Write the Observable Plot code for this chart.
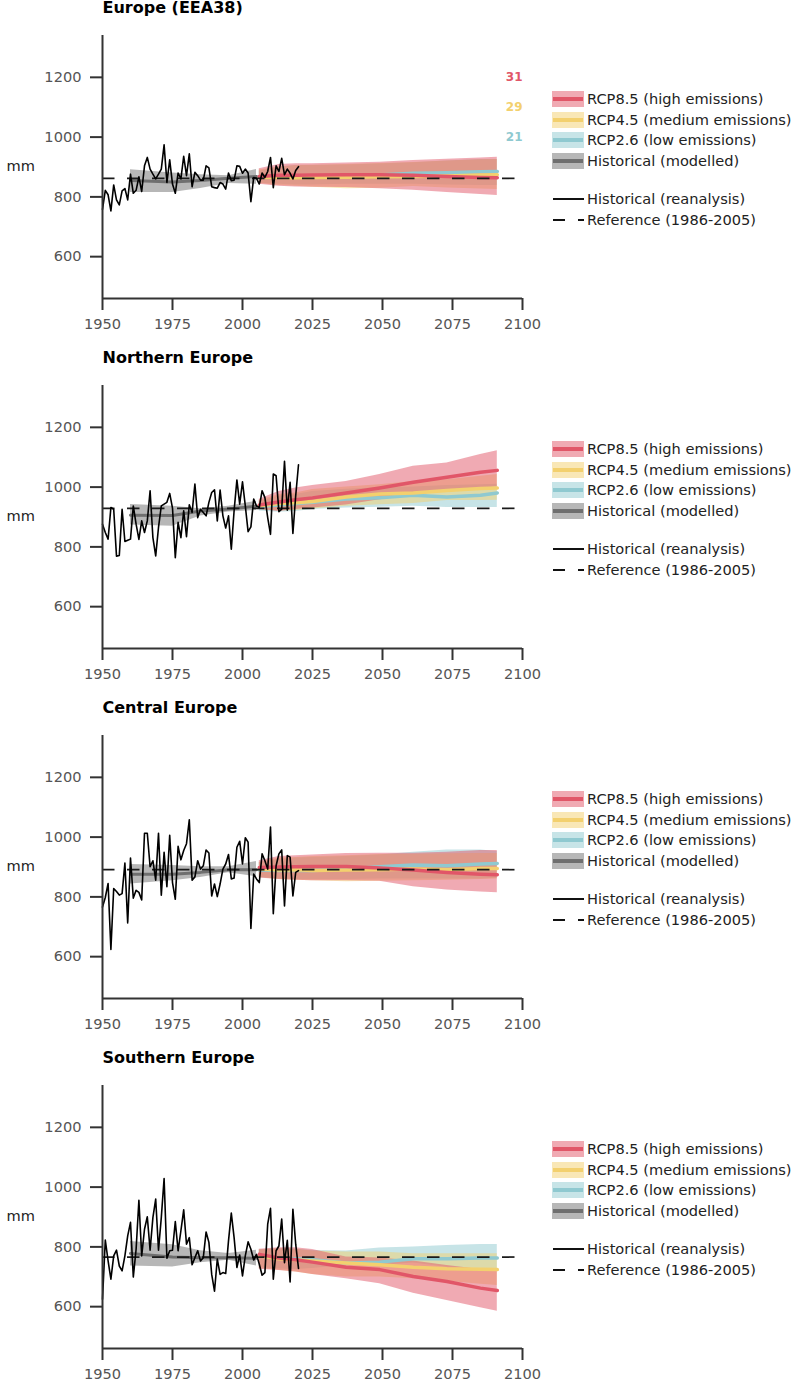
<!DOCTYPE html>
<html><head><meta charset="utf-8">
<script src="https://cdn.jsdelivr.net/npm/d3@7"></script>
<script src="https://cdn.jsdelivr.net/npm/@observablehq/plot@0.6"></script>
<style>
html,body{margin:0;padding:0;background:#fff;font-family:"DejaVu Sans",sans-serif}
#root{width:800px}
.panel{position:relative;width:800px;height:350px}
.panel svg{display:block;overflow:visible}
.lg{position:absolute;left:552px;width:248px;height:20px;font-size:14.6px;line-height:20px;color:#222;white-space:nowrap}
.lg span{position:absolute;left:35px;top:0}
.lg i{position:absolute;display:block}
</style></head><body><div id="root"></div>
<script>
const titles = ["Europe (EEA38)","Northern Europe","Central Europe","Southern Europe"];
const reanalysisYears = d3.range(1950, 2021);
const modelYears = [2006,2013,2019,2025,2037,2049,2061,2073,2085,2091];
const histYears = [1960,1975,1985,1995,2005];
const xTicks = [1950,1975,2000,2025,2050,2075,2100];
const yTicks = [600,800,1000,1200];
const xDomain = [1950,2100];
const yDomain = [460,1340];
const references = [862,929,891,766];
const countLabels = ["31","29","21"];
const countLabelY = [1200,1100,1000];
const legendNames = ["RCP8.5 (high emissions)","RCP4.5 (medium emissions)","RCP2.6 (low emissions)","Historical (modelled)"];
const lineNames = ["Historical (reanalysis)","Reference (1986-2005)"];
const lineColors = ["#e15668","#f3d06e","#8fc9d0","#6f6f6f"];

// Europe
const eu_re = [758,822,807,753,840,790,773,820,828,790,876,812,822,867,818,904,932,893,876,860,876,893,974,848,924,843,812,880,860,936,871,944,834,882,871,856,856,904,897,834,831,829,848,843,826,880,854,856,904,902,879,893,880,784,865,862,843,880,865,885,932,831,904,885,929,874,893,879,860,888,901];
const eu_h_hi = [891,880,874,871,892];
const eu_h_mid = [855,850,855,862,868];
const eu_h_lo = [815,815,828,845,842];
const eu_85_hi = [894,908,911,911,913,916,922,926,930,933];
const eu_85_mid = [868,872,872,873,874,874,872,868,865,864];
const eu_85_lo = [842,836,833,832,831,827,822,815,808,805];
const eu_45_hi = [890,900,905,906,908,912,915,920,924,925];
const eu_45_mid = [866,865,864,865,866,867,868,870,873,874];
const eu_45_lo = [845,838,836,832,827,829,835,830,826,825];
const eu_26_hi = [886,900,905,905,907,910,914,920,925,925];
const eu_26_mid = [866,866,866,867,869,873,879,881,884,885];
const eu_26_lo = [846,842,840,840,842,842,842,840,838,838];

// Northern
const no_re = [876,848,826,932,926,769,771,926,818,822,826,937,876,825,887,848,887,988,831,770,865,937,943,949,979,930,764,882,831,921,834,941,915,1010,898,926,915,904,949,982,991,887,990,904,863,904,792,921,1024,943,1018,937,851,867,960,937,932,988,965,898,842,1044,1038,918,926,1086,923,1016,845,971,1075];
const no_h_hi = [942,936,928,936,953];
const no_h_mid = [906,905,920,927,936];
const no_h_lo = [873,869,903,917,922];
const no_85_hi = [959,985,997,1005,1019,1042,1070,1081,1109,1122];
const no_85_mid = [940,950,958,964,980,997,1016,1033,1050,1056];
const no_85_lo = [926,918,925,930,940,958,973,986,996,1000];
const no_45_hi = [955,975,980,992,1000,1008,1019,1025,1036,1042];
const no_45_mid = [938,945,948,952,967,977,980,989,995,997];
const no_45_lo = [925,920,922,927,936,941,945,955,955,956];
const no_26_hi = [950,970,975,985,993,998,1000,1005,1008,1010];
const no_26_mid = [935,940,945,949,960,964,973,967,973,980];
const no_26_lo = [920,916,918,925,930,933,936,932,932,932];

// Central
const ce_re = [766,798,845,624,828,818,806,811,913,713,930,796,822,815,790,1013,1013,901,921,856,1013,806,949,834,1006,848,792,969,924,955,978,1058,856,867,921,893,904,957,947,803,843,801,843,893,910,942,860,863,966,986,910,998,983,694,876,860,848,944,921,893,1034,744,904,944,957,770,938,933,803,882,888];
const ce_h_hi = [908,905,901,901,918];
const ce_h_mid = [876,876,882,891,891];
const ce_h_lo = [843,854,865,881,867];
const ce_85_hi = [921,935,938,940,945,946,946,949,955,955];
const ce_85_mid = [898,900,901,902,902,897,890,882,876,874];
const ce_85_lo = [863,858,856,854,854,852,834,823,816,814];
const ce_45_hi = [915,930,932,935,938,942,943,944,945,945];
const ce_45_mid = [893,890,891,888,890,891,893,891,895,895];
const ce_45_lo = [865,858,856,854,851,852,854,856,858,860];
const ce_26_hi = [915,925,930,932,935,940,949,957,957,952];
const ce_26_mid = [890,888,889,888,893,901,907,904,910,912];
const ce_26_lo = [865,860,858,858,858,860,860,860,860,862];

// Southern
const so_re = [625,823,753,692,770,789,736,720,770,837,882,699,792,956,770,859,901,789,898,960,789,898,1029,762,787,789,885,787,854,924,809,831,740,764,787,753,764,850,815,708,652,759,708,714,711,820,913,831,731,773,703,770,817,792,756,775,742,705,714,876,929,692,787,803,893,747,822,683,926,809,728];
const so_h_hi = [818,807,787,778,789];
const so_h_mid = [778,766,764,764,762];
const so_h_lo = [736,733,747,755,736];
const so_85_hi = [792,797,797,791,766,763,753,738,724,719];
const so_85_mid = [775,763,757,749,732,724,701,684,662,654];
const so_85_lo = [725,721,716,708,693,677,645,621,596,585];
const so_45_hi = [790,794,792,786,783,783,777,777,777,777];
const so_45_mid = [770,760,757,753,746,740,732,727,725,724];
const so_45_lo = [728,722,716,708,699,699,693,685,675,671];
const so_26_hi = [790,794,792,788,786,796,800,805,808,808];
const so_26_mid = [770,762,760,757,746,749,760,760,763,763];
const so_26_lo = [730,726,724,728,738,738,746,732,727,724];

const regions = [
 {re:eu_re,h:[eu_h_lo,eu_h_mid,eu_h_hi],r85:[eu_85_lo,eu_85_mid,eu_85_hi],r45:[eu_45_lo,eu_45_mid,eu_45_hi],r26:[eu_26_lo,eu_26_mid,eu_26_hi]},
 {re:no_re,h:[no_h_lo,no_h_mid,no_h_hi],r85:[no_85_lo,no_85_mid,no_85_hi],r45:[no_45_lo,no_45_mid,no_45_hi],r26:[no_26_lo,no_26_mid,no_26_hi]},
 {re:ce_re,h:[ce_h_lo,ce_h_mid,ce_h_hi],r85:[ce_85_lo,ce_85_mid,ce_85_hi],r45:[ce_45_lo,ce_45_mid,ce_45_hi],r26:[ce_26_lo,ce_26_mid,ce_26_hi]},
 {re:so_re,h:[so_h_lo,so_h_mid,so_h_hi],r85:[so_85_lo,so_85_mid,so_85_hi],r45:[so_45_lo,so_45_mid,so_45_hi],r26:[so_26_lo,so_26_mid,so_26_hi]}
];
const table = (years,[lo,mid,hi]) => years.map((year,i)=>({year,lo:lo[i],mid:mid[i],hi:hi[i]}));
const band = (rows,fill) => Plot.areaY(rows,{x:"year",y1:"lo",y2:"hi",fill,fillOpacity:0.5});
const center = (rows,stroke,w) => Plot.line(rows,{x:"year",y:"mid",stroke,strokeWidth:w});

const root = document.getElementById("root");
regions.forEach((r,idx)=>{
  const h = table(histYears,r.h), a = table(modelYears,r.r26), b = table(modelYears,r.r45), c = table(modelYears,r.r85);
  const re = reanalysisYears.map((year,i)=>({year,v:r.re[i]}));
  const marks = [
    band(h,lineColors[3]), band(a,lineColors[2]), band(b,lineColors[1]), band(c,lineColors[0]),
    center(h,lineColors[3],3), center(a,lineColors[2],3.5), center(b,lineColors[1],3.5), center(c,lineColors[0],3.5),
    Plot.ruleY([references[idx]],{x1:xDomain[0],x2:xDomain[1],stroke:"#1a1a1a",strokeWidth:1.7,strokeDasharray:"12.5 12.5"}),
    Plot.line(re,{x:"year",y:"v",stroke:"#000",strokeWidth:1.6}),
    Plot.ruleX([xDomain[0]],{stroke:"#333",strokeWidth:2}),
    Plot.ruleY([yDomain[0]],{stroke:"#333",strokeWidth:2}),
    Plot.axisX({ticks:xTicks,tickFormat:d=>String(d),tickSize:12,tickPadding:8,label:null,stroke:"#333",color:"#555",strokeWidth:2,fontSize:14.6}),
    Plot.axisY({ticks:yTicks,tickFormat:d=>String(d),tickSize:12,tickPadding:9,label:null,stroke:"#333",color:"#555",strokeWidth:2,fontSize:14.6}),
    Plot.text(["mm"],{frameAnchor:"left",dx:-96,dy:-1,textAnchor:"start",fill:"#222",fontSize:14.6}),
    Plot.text([titles[idx]],{frameAnchor:"top-left",dy:-28,textAnchor:"start",lineAnchor:"middle",fill:"#000",fontSize:16,fontWeight:"bold"})
  ];
  if (idx===0) marks.push(Plot.text(countLabels,{x:()=>xDomain[1],y:(d,i)=>countLabelY[i],text:d=>d,textAnchor:"end",fill:(d,i)=>lineColors[i],fontSize:12,fontWeight:"bold"}));
  const svg = Plot.plot({width:800,height:350,marginLeft:102,marginRight:278,marginTop:35,marginBottom:52,
    style:{fontFamily:'"DejaVu Sans",sans-serif',fontSize:"14.6px",background:"transparent",overflow:"visible"},
    x:{domain:xDomain,axis:null},y:{domain:yDomain,axis:null},marks});
  const p = document.createElement("div"); p.className="panel"; p.appendChild(svg);
  const tops=[89,110,130,151];
  legendNames.forEach((name,i)=>{
    const d=document.createElement("div"); d.className="lg"; d.style.top=tops[i]+"px";
    d.innerHTML=`<i style="left:0;top:2px;width:31.5px;height:15.5px;background:${lineColors[i]};opacity:.5"></i><i style="left:1px;top:8px;width:30px;height:3.5px;background:${lineColors[i]}"></i><span>${name}</span>`;
    p.appendChild(d);
  });
  const ltops=[189,210];
  lineNames.forEach((name,i)=>{
    const d=document.createElement("div"); d.className="lg"; d.style.top=ltops[i]+"px";
    const bg = i===0 ? "#111" : "repeating-linear-gradient(90deg,#111 0 12.5px,transparent 12.5px 25px)";
    d.innerHTML=`<i style="left:1px;top:9px;width:30.5px;height:2px;background:${bg}"></i><span>${name}</span>`;
    p.appendChild(d);
  });
  root.appendChild(p);
});
</script></body></html>
